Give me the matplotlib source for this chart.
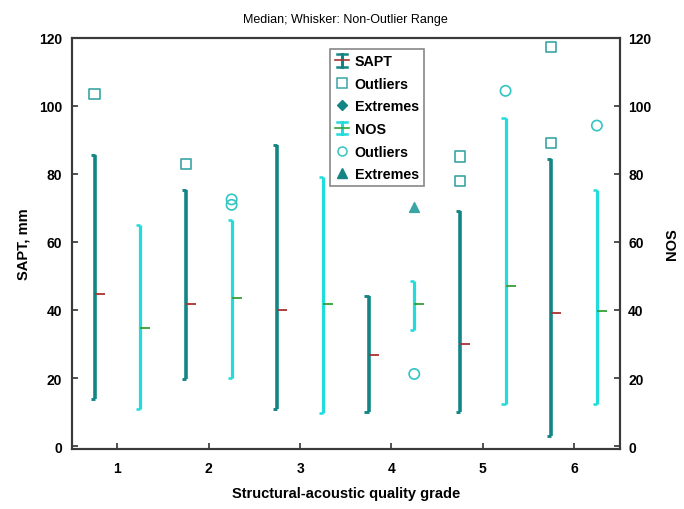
import matplotlib
matplotlib.use("Agg")
import matplotlib.pyplot as plt
from matplotlib.lines import Line2D
from matplotlib.legend_handler import HandlerBase

plt.rcParams['font.family'] = ['Liberation Sans', 'DejaVu Sans']

grades = [1, 2, 3, 4, 5, 6]
grade_labels = ["1", "2", "3", "4", "5", "6"]

sapt_median = [44.8, 41.8, 39.9, 26.8, 30.0, 39.2]
sapt_min = [13.9, 19.8, 11.0, 10.1, 10.0, 3.0]
sapt_max = [85.6, 75.3, 88.5, 44.2, 69.2, 84.4]
sapt_outlier_grade = [1, 2, 5, 5, 6, 6]
sapt_outlier_value = [103.5, 82.9, 85.1, 78.0, 89.0, 117.3]

nos_median = [34.7, 43.6, 41.8, 41.8, 47.0, 39.7]
nos_min = [10.8, 20.0, 9.8, 34.0, 12.3, 12.3]
nos_max = [65.1, 66.3, 79.0, 48.4, 96.4, 75.3]
nos_outlier_grade = [2, 2, 4, 5, 6]
nos_outlier_value = [72.5, 70.9, 21.2, 104.4, 94.2]
nos_extreme_grade = [4]
nos_extreme_value = [70.3]

yticks = [0, 20, 40, 60, 80, 100, 120]

SAPT_C = '#148585'
SAPT_MK = '#3aa5a5'
NOS_C = '#22dcdc'
NOS_MK = '#33c4c4'
SAPT_MED = '#a83232'
NOS_MED = '#35a035'

OFF = 0.25
CAP = 0.045
MED = 0.11

fig = plt.figure(figsize=(6.84, 5.10), dpi=100)
ax = fig.add_axes([0.105, 0.118, 0.801, 0.806])


def draw_whiskers(ax, xs, lo, hi, med, color, mcolor, lw):
    ax.vlines(xs, lo, hi, color=color, lw=lw, zorder=3)
    ax.hlines(lo, [x - CAP for x in xs], xs, color=color, lw=lw * 0.8, zorder=3)
    ax.hlines(hi, [x - CAP for x in xs], xs, color=color, lw=lw * 0.8, zorder=3)
    ax.hlines(med, xs, [x + MED for x in xs], color=mcolor, lw=1.3, zorder=4)


sx = [g - OFF for g in grades]
nx = [g + OFF for g in grades]
draw_whiskers(ax, sx, sapt_min, sapt_max, sapt_median, SAPT_C, SAPT_MED, 2.6)
draw_whiskers(ax, nx, nos_min, nos_max, nos_median, NOS_C, NOS_MED, 2.3)

ax.scatter([g - OFF for g in sapt_outlier_grade], sapt_outlier_value, marker='s', s=55,
           facecolors='none', edgecolors=SAPT_MK, linewidths=1.2, zorder=5)
ax.scatter([g + OFF for g in nos_outlier_grade], nos_outlier_value, marker='o', s=55,
           facecolors='none', edgecolors=NOS_MK, linewidths=1.2, zorder=5)
ax.scatter([g + OFF for g in nos_extreme_grade], nos_extreme_value, marker='^', s=50,
           color=SAPT_MK, zorder=5)

ax.set_xlim(0.5, 6.5)
ax.set_ylim(-0.8, 120)
ax.set_xticks(grades)
ax.set_xticklabels(grade_labels, fontweight='bold', fontsize=10)
ax.set_yticks(yticks)
ax.set_yticklabels([str(v) for v in yticks], fontweight='bold', fontsize=10)
ax.tick_params(axis='both', direction='in', length=4, width=1.2, color='#333333')
ax.tick_params(axis='y', pad=7)
ax.tick_params(axis='x', pad=9)
for sp in ax.spines.values():
    sp.set_color('#3a3a3a')
    sp.set_linewidth(1.5)

ax2 = ax.twinx()
ax2.set_ylim(-0.8, 120)
ax2.set_yticks(yticks)
ax2.set_yticklabels([str(v) for v in yticks], fontweight='bold', fontsize=10)
ax2.tick_params(axis='y', direction='in', length=4, width=1.2, color='#333333', pad=6)
for sp in ax2.spines.values():
    sp.set_color('#3a3a3a')
    sp.set_linewidth(1.5)

ax.set_xlabel('Structural-acoustic quality grade', fontweight='bold', fontsize=10.5, labelpad=8)
ax.set_ylabel('SAPT, mm', fontweight='bold', fontsize=10.5, labelpad=6)
ax2.set_ylabel('NOS', fontweight='bold', fontsize=10.5, labelpad=10)
ax.set_title('Median; Whisker: Non-Outlier Range', fontsize=9, pad=11)


class WhiskerHandler(HandlerBase):
    def __init__(self, color, mcolor):
        super().__init__()
        self.color = color
        self.mcolor = mcolor

    def create_artists(self, legend, orig_handle, xdescent, ydescent, width, height, fontsize, trans):
        cx = width / 2 - xdescent
        y0 = -ydescent - 1
        y1 = height - ydescent + 1
        ym = (y0 + y1) / 2
        arts = [
            Line2D([cx, cx], [y0, y1], color=self.color, lw=2.2),
            Line2D([cx - 3.5, cx + 3.5], [y0, y0], color=self.color, lw=1.8),
            Line2D([cx - 3.5, cx + 3.5], [y1, y1], color=self.color, lw=1.8),
            Line2D([cx - 5, cx + 5], [ym, ym], color=self.mcolor, lw=1.2),
        ]
        for a in arts:
            a.set_transform(trans)
        return arts


h_sapt = Line2D([], [], color=SAPT_C)
h_nos = Line2D([], [], color=NOS_C)
h_so = Line2D([], [], marker='s', ls='none', mfc='none', mec=SAPT_MK, ms=6.5, mew=1.1)
h_se = Line2D([], [], marker='D', ls='none', color=SAPT_C, ms=5.5)
h_no = Line2D([], [], marker='o', ls='none', mfc='none', mec=NOS_MK, ms=6.5, mew=1.1)
h_ne = Line2D([], [], marker='^', ls='none', color=SAPT_C, ms=7.5)

leg = ax.legend([h_sapt, h_so, h_se, h_nos, h_no, h_ne],
                ['SAPT', 'Outliers', 'Extremes', 'NOS', 'Outliers', 'Extremes'],
                handler_map={h_sapt: WhiskerHandler(SAPT_C, SAPT_MED),
                             h_nos: WhiskerHandler(NOS_C, NOS_MED)},
                loc='upper left', bbox_to_anchor=(0.472, 0.972),
                prop={'weight': 'bold', 'size': 10.3}, handlelength=0.9,
                handletextpad=0.45, labelspacing=0.6, borderpad=0.35,
                fancybox=False, framealpha=1, edgecolor='#888888', borderaxespad=0)
leg.get_frame().set_linewidth(1.2)
leg.set_zorder(10)

fig.savefig('out.png', dpi=100)
